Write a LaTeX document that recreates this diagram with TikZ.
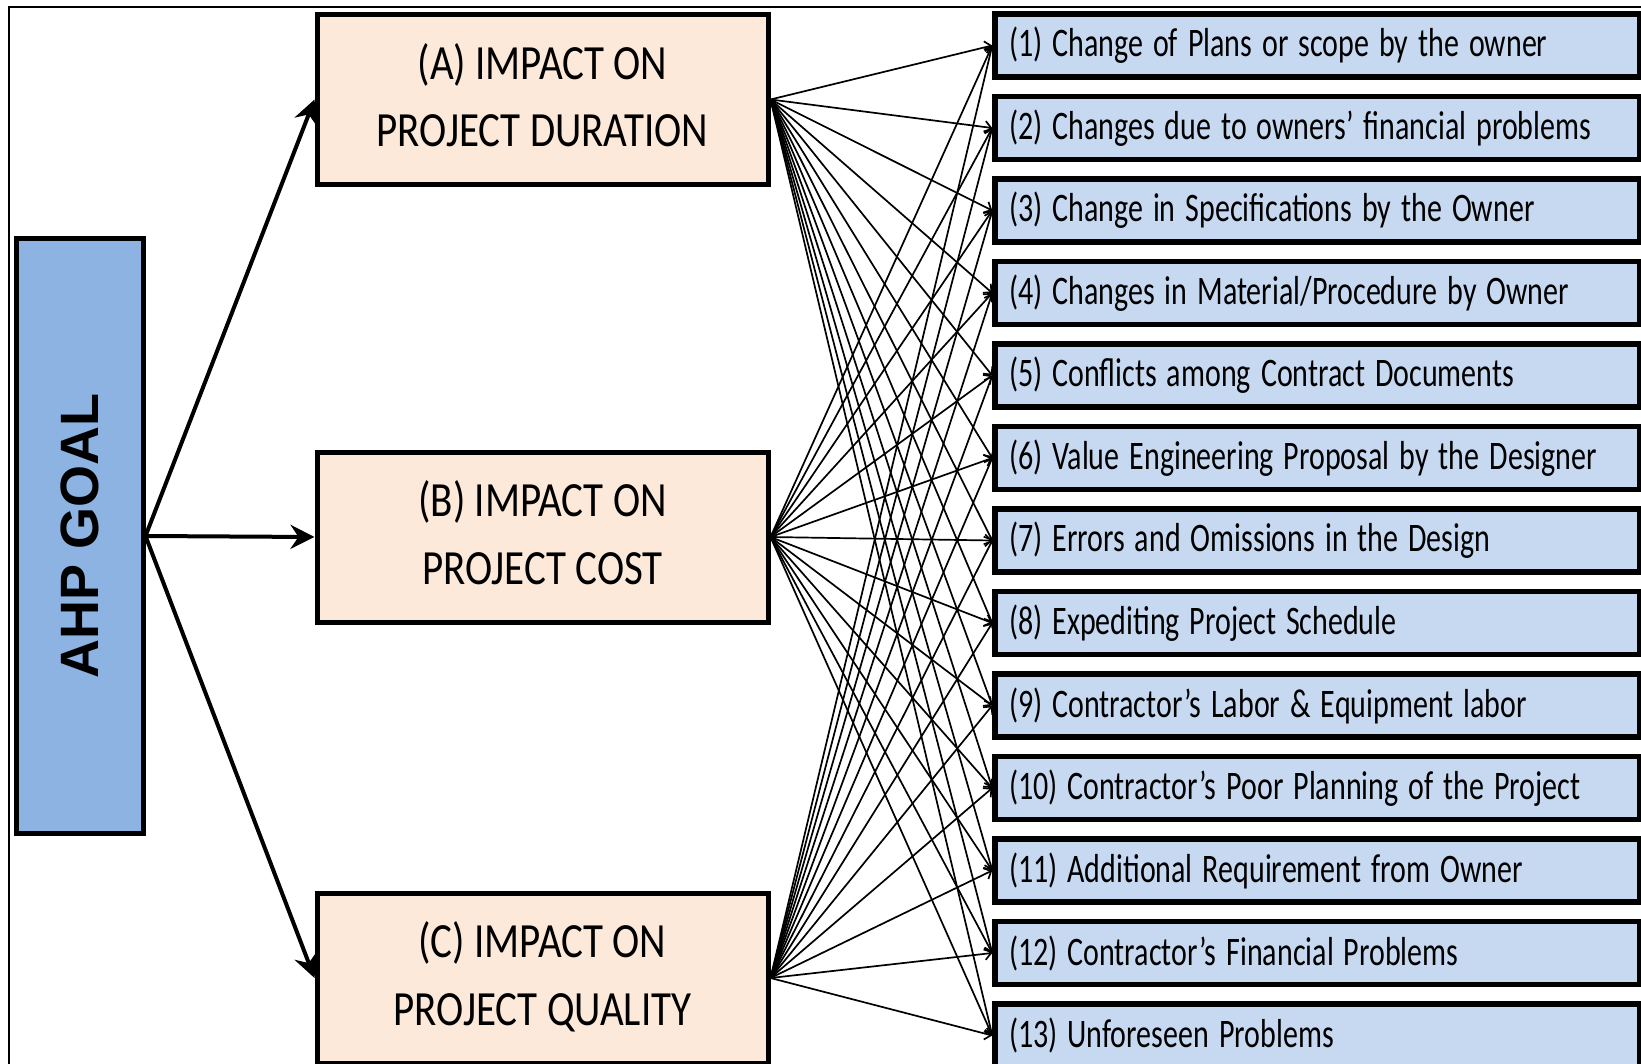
\documentclass[tikz,border=0pt]{standalone}
\usepackage{fontspec}
\setmainfont{Carlito}
\newfontfamily\goalfont{Liberation Sans}
\usepackage{graphicx}
\usetikzlibrary{arrows.meta}

\definecolor{goalblue}{RGB}{141,179,226}
\definecolor{impactpeach}{RGB}{253,233,217}
\definecolor{factorblue}{RGB}{198,217,241}

\newcommand{\tallbox}[2]{\scalebox{1}[#1]{\begin{tabular}{@{}c@{}}#2\end{tabular}}}

\begin{document}
\begin{tikzpicture}[
            x=1pt, y=-1pt,
            goalbox/.style={
                draw, fill=goalblue, line width=5pt, inner sep=0pt,
                minimum width=127pt, minimum height=594pt
            },
            impactbox/.style={
                draw, fill=impactpeach, line width=5pt, inner sep=0pt,
                minimum width=451pt, minimum height=170pt,
                font=\fontsize{41}{56}\selectfont
            },
            factorbox/.style={
                draw, fill=factorblue, line width=5.5pt,
                inner xsep=14pt, inner ysep=0pt,
                text width=617pt, align=left, minimum height=63pt,
                font=\fontsize{30}{34}\selectfont
            },
            goallink/.style={
                line width=4pt, -{Stealth[length=24pt,width=24pt,inset=8pt]}
            },
            factorlink/.style={
                line width=1.7pt, -{Straight Barb[length=6pt,width=12pt]}
            }
        ]
        \useasboundingbox (0,0) rectangle (1641,1064);
        \draw[line width=2pt] (9,1070) -- (9,7) -- (1650,7);

        % goal and criteria
        \node[goalbox] (goal) at (79.5,536)
            {\rotatebox{90}{\goalfont\bfseries\fontsize{54}{60}\selectfont AHP GOAL}};
        \node[impactbox] (impA) at (542.5,99.5) {\tallbox{1.2}{(A) IMPACT ON\\PROJECT DURATION}};
        \node[impactbox] (impB) at (542.5,537) {\tallbox{1.2}{(B) IMPACT ON\\PROJECT COST}};
        \node[impactbox] (impC) at (542.5,978) {\tallbox{1.2}{(C) IMPACT ON\\PROJECT QUALITY}};

        % sub-criteria
        \foreach \txt [count=\i] in {
            {(1) Change of Plans or scope by the owner},
            {(2) Changes due to owners’ financial problems},
            {(3) Change in Specifications by the Owner},
            {(4) Changes in Material/Procedure by Owner},
            {(5) Conflicts among Contract Documents},
            {(6) Value Engineering Proposal by the Designer},
            {(7) Errors and Omissions in the Design},
            {(8) Expediting Project Schedule},
            {(9) Contractor’s Labor \& Equipment labor},
            {(10) Contractor’s Poor Planning of the Project},
            {(11) Additional Requirement from Owner},
            {(12) Contractor’s Financial Problems},
            {(13) Unforeseen Problems}}
            \node[factorbox] (f\i) at (1317.5,{45.5+(\i-1)*82.5}) {\scalebox{1}[1.35]{\txt}};

        % links
        \foreach \dst in {impA,impB,impC}
            \draw[goallink] (goal.east) -- (\dst.west);
        \foreach \src in {impA,impB,impC}
            \foreach \i in {1,...,13}
                \draw[factorlink] (\src.east) -- (f\i.west);
\end{tikzpicture}
\end{document}
